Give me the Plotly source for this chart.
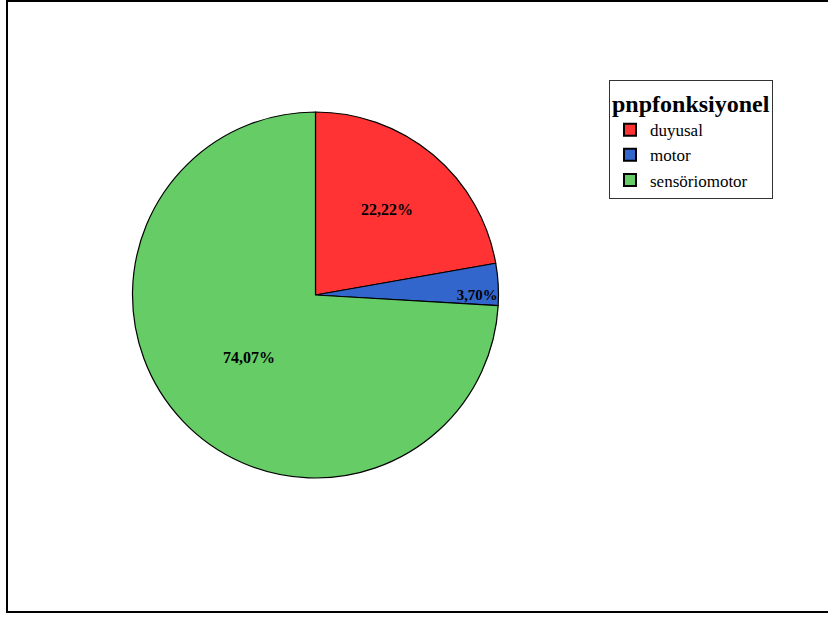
import plotly.graph_objects as go

categories = ["duyusal", "motor", "sensöriomotor"]
counts = [6, 1, 20]
colors = ["#FF3333", "#3366CC", "#66CC66"]
legend_title = "pnpfonksiyonel"

W, H = 828, 617
cx, cy, r = 315.5, 295, 183
SERIF = "Times New Roman, Liberation Serif, serif"

fig = go.Figure()
fig.add_trace(go.Pie(
    labels=categories,
    values=counts,
    sort=False,
    direction="clockwise",
    rotation=0,
    marker=dict(colors=colors, line=dict(color="black", width=1.2)),
    texttemplate="%{percent:.2%}",
    textposition="inside",
    insidetextorientation="horizontal",
    textfont=dict(family=SERIF, size=16, color="black", weight="bold"),
    hoverinfo="label+percent",
    domain=dict(x=[(cx - r) / W, (cx + r) / W], y=[1 - (cy + r) / H, 1 - (cy - r) / H]),
))

fig.update_layout(
    width=W, height=H,
    margin=dict(l=0, r=0, t=0, b=0),
    paper_bgcolor="white",
    plot_bgcolor="white",
    separators=",.",
    font=dict(family=SERIF, color="black"),
    legend=dict(
        title=dict(text="<b>" + legend_title + "</b>", font=dict(family=SERIF, size=24, color="black")),
        x=609 / W, y=1 - 80 / H, xanchor="left", yanchor="top",
        bordercolor="#333333", borderwidth=1,
        font=dict(family=SERIF, size=17, color="black"),
        itemsizing="constant",
    ),
    shapes=[dict(type="rect", xref="paper", yref="paper",
                 x0=7 / W, x1=1.02, y0=1 - 612 / H, y1=1 - 1 / H,
                 line=dict(color="black", width=2))],
)

fig.write_html("out.html", config={"displayModeBar": False},
               post_script="document.body.style.margin='0';")
